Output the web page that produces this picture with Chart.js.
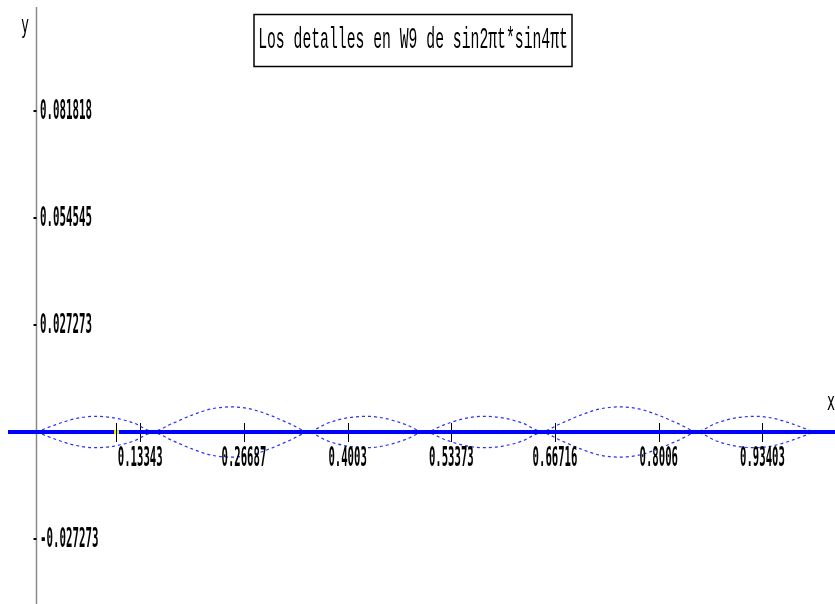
<!DOCTYPE html>
<html><head><meta charset="utf-8">
<script src="https://cdn.jsdelivr.net/npm/chart.js@4/dist/chart.umd.min.js"></script>
<style>html,body{margin:0;padding:0;background:#fff;overflow:hidden}#wrap{width:835px;height:604px}</style>
</head><body><div id="wrap"><canvas id="c" width="835" height="604"></canvas></div>
<script>
const titleText = "Los detalles en W9 de sin2πt*sin4πt";
const tValues = [0,0.025,0.05,0.075,0.1,0.125,0.15,0.175,0.2,0.225,0.25,0.275,0.3,0.325,0.35,0.375,0.4,0.425,0.45,0.475,0.5,
  0.525,0.55,0.575,0.6,0.625,0.65,0.675,0.7,0.725,0.75,0.775,0.8,0.825,0.85,0.875,0.9,0.925,0.95,0.975,1];
const upperEnv = [0,0.0019,0.0034,0.0040,0.0036,0.0023,0.0002,0.0022,0.0043,0.0059,0.0064,0.0059,0.0043,0.0022,0.0002,0.0023,0.0036,0.0040,0.0034,0.0019,0,
  0.0019,0.0034,0.0040,0.0036,0.0023,0.0002,0.0022,0.0043,0.0059,0.0064,0.0059,0.0043,0.0022,0.0002,0.0023,0.0036,0.0040,0.0034,0.0019,0];
const lowerEnv = [0,-0.0019,-0.0034,-0.0040,-0.0036,-0.0023,-0.0002,-0.0022,-0.0043,-0.0059,-0.0064,-0.0059,-0.0043,-0.0022,-0.0002,-0.0023,-0.0036,-0.0040,-0.0034,-0.0019,0,
  -0.0019,-0.0034,-0.0040,-0.0036,-0.0023,-0.0002,-0.0022,-0.0043,-0.0059,-0.0064,-0.0059,-0.0043,-0.0022,-0.0002,-0.0023,-0.0036,-0.0040,-0.0034,-0.0019,0];
const xTicks = [0.13343,0.26687,0.4003,0.53373,0.66716,0.8006,0.93403];
const xTickLabels = ["0.13343","0.26687","0.4003","0.53373","0.66716","0.8006","0.93403"];
const yTicks = [0.081818,0.054545,0.027273,-0.027273];
const yTickLabels = ["0.081818","0.054545","0.027273","-0.027273"];
const cursorX = [0.1023];

function condText(ctx, txt, x, y, font, charW, align, baseline){
  ctx.save();
  ctx.font = font;
  const mw = ctx.measureText(txt).width;
  const sx = (charW * txt.length) / mw;
  const w = mw * sx;
  const left = align === 'center' ? x - w/2 : (align === 'right' ? x - w : x);
  ctx.translate(left, y);
  ctx.scale(sx, 1);
  ctx.textAlign = 'left';
  ctx.textBaseline = baseline || 'middle';
  ctx.fillStyle = '#000';
  ctx.fillText(txt, 0, 0);
  ctx.restore();
}

const axesPlugin = {
  id: 'axesPlugin',
  beforeDatasetsDraw(chart){
    const ctx = chart.ctx, xs = chart.scales.x, ys = chart.scales.y;
    const x0 = xs.getPixelForValue(0), y0 = ys.getPixelForValue(0);
    ctx.save();
    // y axis
    ctx.strokeStyle = '#8a8a8a'; ctx.lineWidth = 1.5;
    ctx.beginPath(); ctx.moveTo(x0, 7); ctx.lineTo(x0, 604); ctx.stroke();
    // y tick marks
    ctx.fillStyle = '#000';
    yTicks.forEach(v => { const py = ys.getPixelForValue(v); ctx.fillRect(x0 - 3, py - 1, 3, 2); });
    // x ticks
    ctx.strokeStyle = '#000'; ctx.lineWidth = 1;
    xTicks.concat(cursorX).forEach(v => { const px = Math.round(xs.getPixelForValue(v)) + 0.5; ctx.beginPath(); ctx.moveTo(px, y0 - 9); ctx.lineTo(px, y0 + 10); ctx.stroke(); });
    ctx.restore();
  },
  afterDatasetsDraw(chart){
    const ctx = chart.ctx, xs = chart.scales.x, ys = chart.scales.y;
    const y0 = ys.getPixelForValue(0);
    ctx.save();
    ctx.fillStyle = '#0000ff';
    ctx.fillRect(8, y0 - 2, 835 - 8, 4);
    cursorX.forEach(v => { const px = xs.getPixelForValue(v); ctx.fillStyle = '#e8e800'; ctx.fillRect(px - 2, y0 - 2, 5, 4); ctx.fillStyle='#000'; ctx.fillRect(Math.round(px), y0 - 9, 1, 19); });
    ctx.restore();
  },
  afterDraw(chart){
    const ctx = chart.ctx, xs = chart.scales.x, ys = chart.scales.y;
    const x0 = xs.getPixelForValue(0), y0 = ys.getPixelForValue(0);
    const lf = "bold 27px 'DejaVu Sans Mono'";
    xTicks.forEach((v, i) => condText(ctx, xTickLabels[i], xs.getPixelForValue(v), y0 + 27, lf, 6.4, 'center'));
    yTicks.forEach((v, i) => condText(ctx, yTickLabels[i], x0 + 3.5, ys.getPixelForValue(v) + 1, lf, 6.5, 'left'));
    condText(ctx, 'y', 25, 26, "25px 'DejaVu Sans Mono'", 8, 'center');
    condText(ctx, 'x', 831, 403, "25px 'DejaVu Sans Mono'", 8, 'center');
    // title box
    ctx.save();
    ctx.strokeStyle = '#000'; ctx.lineWidth = 1.5;
    ctx.strokeRect(254, 14.5, 318, 52);
    ctx.restore();
    condText(ctx, titleText, 413, 48, "29px 'Liberation Mono'", 8.85, 'center', 'alphabetic');
  }
};

new Chart(document.getElementById('c'), {
  type: 'line',
  data: {
    labels: tValues,
    datasets: [
      { label: 'upper', data: tValues.map((t, i) => ({x: t, y: upperEnv[i]})), borderColor: 'rgb(45,45,255)', borderWidth: 1.2, borderDash: [3,3], pointRadius: 0, cubicInterpolationMode: 'monotone', fill: false },
      { label: 'lower', data: tValues.map((t, i) => ({x: t, y: lowerEnv[i]})), borderColor: 'rgb(45,45,255)', borderWidth: 1.2, borderDash: [3,3], pointRadius: 0, cubicInterpolationMode: 'monotone', fill: false }
    ]
  },
  options: {
    responsive: false, animation: false, devicePixelRatio: 1,
    layout: { padding: 0 },
    plugins: { legend: { display: false }, tooltip: { enabled: false }, title: { display: false } },
    scales: {
      x: { type: 'linear', min: -0.04696, max: 1.0274, display: false },
      y: { type: 'linear', min: -0.04384, max: 0.11012, display: false }
    }
  },
  plugins: [axesPlugin]
});
</script></body></html>
